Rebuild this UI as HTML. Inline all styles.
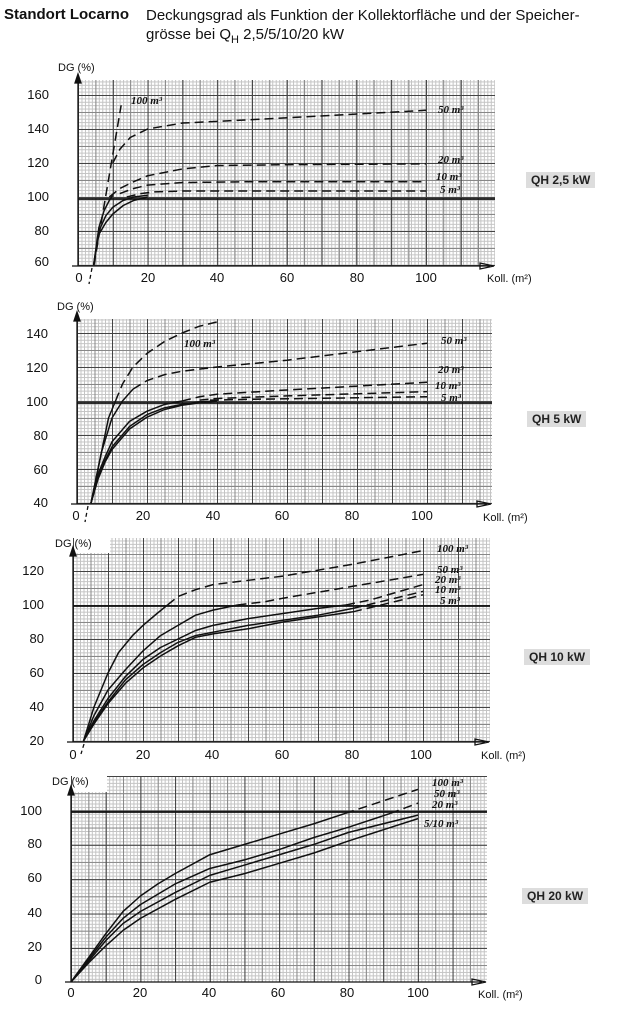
<!DOCTYPE html>
<html><head><meta charset="utf-8"><style>
body{margin:0;background:#fff;width:640px;height:1030px;position:relative;overflow:hidden;font-family:"Liberation Sans",sans-serif;}
.g{position:absolute;background-image:
linear-gradient(to right,#444 1.2px,transparent 1.2px),linear-gradient(#444 1.2px,transparent 1.2px),
linear-gradient(to right,#888 1px,transparent 1px),linear-gradient(#888 1px,transparent 1px),
linear-gradient(to right,#c4c4c4 1px,transparent 1px),linear-gradient(#c4c4c4 1px,transparent 1px);}
.w{position:absolute;background:#fff}
.qh{position:absolute;background:#ddd;font-size:12px;font-weight:bold;color:#222;padding:1px 5px;}
svg{position:absolute;left:0;top:0}
</style></head><body>
<div style="position:absolute;left:4px;top:6px;font-size:15px;font-weight:bold;color:#111">Standort Locarno</div>
<div style="position:absolute;left:146px;top:6px;font-size:15px;color:#111;line-height:19px">Deckungsgrad als Funktion der Kollektorfläche und der Speicher-<br>grösse bei Q<sub style="font-size:11px">H</sub> 2,5/5/10/20 kW</div>

<div class="g" style="left:78px;top:80px;width:417px;height:186px;background-size:34.8px 34px,34.8px 34px,17.4px 17px,17.4px 17px,3.48px 3.4px,3.48px 3.4px;background-position:0 15px,0 15px,0 15px,0 15px,0 15px,0 15px"></div>
<div class="g" style="left:77px;top:319px;width:415px;height:185px;background-size:35px 34px,35px 34px,17.5px 17px,17.5px 17px,3.5px 3.4px,3.5px 3.4px;background-position:0 14px,0 14px,0 14px,0 14px,0 14px,0 14px"></div>
<div class="g" style="left:73px;top:538px;width:417px;height:204px;background-size:35px 34px,35px 34px,17.5px 17px,17.5px 17px,3.5px 3.4px,3.5px 3.4px;background-position:0 33px,0 33px,0 33px,0 33px,0 33px,0 33px"></div>
<div class="w" style="left:74px;top:537px;width:36px;height:16px"></div>
<div class="g" style="left:71px;top:776px;width:416px;height:206px;background-size:34.7px 34.4px,34.7px 34.4px,17.35px 17.2px,17.35px 17.2px,3.47px 3.44px,3.47px 3.44px;background-position:0 0,0 0,0 0,0 0,0 0,0 0"></div>
<div class="w" style="left:72px;top:775px;width:35px;height:17px"></div>

<div class="qh" style="left:526px;top:172px">QH 2,5 kW</div>
<div class="qh" style="left:527px;top:411px">QH 5 kW</div>
<div class="qh" style="left:524px;top:649px">QH 10 kW</div>
<div class="qh" style="left:522px;top:888px">QH 20 kW</div>

<svg width="640" height="1030" viewBox="0 0 640 1030" font-family="Liberation Sans, sans-serif" fill="#111">
<g stroke="#111" fill="none" stroke-width="1.3">
<path d="M78 266V78M72 266H490M494 266l-14 -3v6z"/>
<path d="M77 504V316M71 504H487M491 504l-14 -3v6z"/>
<path d="M73 742V551M67 742H485M489 742l-14 -3v6z"/>
<path d="M71 982V790M65 982H482M486 982l-14 -3v6z"/>
<path d="M78 74l-3 9h6zM77 312l-3 9h6zM73 547l-3 9h6zM71 786l-3 9h6z" fill="#111"/>
<path d="M78 199H495M77 403H492M73 606H490M71 812H487" stroke-width="1.7"/>
<path d="M92 268l-3 16M88 506l-3 16M84 744l-3 10" stroke-dasharray="4 3"/>
</g>

<g transform="translate(78,197) scale(3.48,-1.7)" fill="none" stroke="#111" stroke-width="1.5" stroke-linejoin="round">
<polyline vector-effect="non-scaling-stroke" points="4.5,-40 6,-18 7.5,-8 9,-2 10,1"/>
<polyline vector-effect="non-scaling-stroke" points="4.5,-40 6,-20 8,-11 10,-6 13,-2 16,0 20,1"/>
<polyline vector-effect="non-scaling-stroke" points="4.5,-40 6,-22 8,-15 10,-10 13,-5 16,-2 20,0"/>
<g stroke-dasharray="9 5">
<polyline vector-effect="non-scaling-stroke" points="4.6,-40 12.4,54"/>
<polyline vector-effect="non-scaling-stroke" points="10,20 12,28 15,35 20,40 30,43.5 50,45.5 100,51"/>
<polyline vector-effect="non-scaling-stroke" points="9,0 12,5 16,9 20,12.5 30,16.5 40,18.5 60,19 100,19.5"/>
<polyline vector-effect="non-scaling-stroke" points="12,2 16,5 20,7 30,8.5 50,9 100,9"/>
<polyline vector-effect="non-scaling-stroke" points="14,0 18,2 22,3 30,3.5 100,3.5"/>
</g></g>

<g transform="translate(77,401) scale(3.5,-1.7)" fill="none" stroke="#111" stroke-width="1.5" stroke-linejoin="round">
<polyline vector-effect="non-scaling-stroke" points="4,-60 6,-45 8,-35 10,-27 15,-15 20,-8 25,-4 30,-2 35,-0.5 40,0"/>
<polyline vector-effect="non-scaling-stroke" points="4,-60 6,-46 8,-36 10,-28.5 15,-16.5 20,-9.5 25,-5 30,-2.5 35,-1 40,0"/>
<polyline vector-effect="non-scaling-stroke" points="4,-60 6,-43 8,-33 10,-24 15,-12 20,-6 25,-2 30,0"/>
<polyline vector-effect="non-scaling-stroke" points="4,-60 7,-30 10,-10 13,0 16,7"/>
<polyline vector-effect="non-scaling-stroke" points="4,-60 7,-30 9,-10 11,0"/>
<g stroke-dasharray="9 5">
<polyline vector-effect="non-scaling-stroke" points="11,0 13,10 16,20 20,28 25,35 30,40 35,44 41,47"/>
<polyline vector-effect="non-scaling-stroke" points="16,7 20,12 25,15.5 30,17.5 40,20 60,24 100,34"/>
<polyline vector-effect="non-scaling-stroke" points="30,0 35,2.5 40,4 60,6.5 100,11"/>
<polyline vector-effect="non-scaling-stroke" points="35,0.5 40,1.5 60,3 100,5.5"/>
<polyline vector-effect="non-scaling-stroke" points="38,0.5 50,1 100,2.5"/>
</g></g>

<g transform="translate(73,605) scale(3.5,-1.7)" fill="none" stroke="#111" stroke-width="1.5" stroke-linejoin="round">
<polyline vector-effect="non-scaling-stroke" points="3,-80 6,-60 10,-40 13,-28 17,-18 20,-12 24,-5 27,0"/>
<polyline vector-effect="non-scaling-stroke" points="3,-80 6,-65 10,-50 15,-38 20,-27 25,-18 30,-12 35,-6 40,-3 47,0"/>
<polyline vector-effect="non-scaling-stroke" points="3,-80 6,-68 10,-55 15,-42 20,-32 25,-25 30,-20 35,-15 40,-12 50,-8 60,-5 70,-2 78,0"/>
<polyline vector-effect="non-scaling-stroke" points="3,-80 6,-69 10,-57 15,-44 20,-35 25,-28 30,-22 35,-18 40,-16 50,-12 60,-9 70,-6 80,-2"/>
<polyline vector-effect="non-scaling-stroke" points="3,-80 6,-70 10,-58 15,-46 20,-37 25,-30 30,-24 35,-19 40,-17 50,-14 60,-10 70,-7 80,-4"/>
<g stroke-dasharray="9 5">
<polyline vector-effect="non-scaling-stroke" points="27,0 30,5 35,9 40,12 60,17 80,24 100,32"/>
<polyline vector-effect="non-scaling-stroke" points="47,0 55,2 60,4 80,11 100,18"/>
<polyline vector-effect="non-scaling-stroke" points="78,0 85,3 100,12"/>
<polyline vector-effect="non-scaling-stroke" points="80,-2 90,3 100,8"/>
<polyline vector-effect="non-scaling-stroke" points="80,-4 90,1 100,6"/>
</g></g>

<g transform="translate(71,810) scale(3.47,-1.72)" fill="none" stroke="#111" stroke-width="1.5" stroke-linejoin="round">
<polyline vector-effect="non-scaling-stroke" points="0,-100 5,-86 10,-72 15,-59 20,-50 25,-43 30,-37 40,-26 50,-20 60,-14 70,-8 79,-2"/>
<polyline vector-effect="non-scaling-stroke" points="0,-100 5,-87 10,-74 15,-63 20,-55 30,-43 40,-34 50,-29 60,-23 70,-16 80,-10 92,-2"/>
<polyline vector-effect="non-scaling-stroke" points="0,-100 5,-88 10,-76 15,-66 20,-59 30,-48 40,-38 50,-32 60,-26 70,-20 80,-13 100,-3"/>
<polyline vector-effect="non-scaling-stroke" points="0,-100 5,-89 10,-79 15,-70 20,-63 30,-52 40,-42 50,-37 60,-31 70,-25 80,-18 100,-5"/>
<g stroke-dasharray="9 5">
<polyline vector-effect="non-scaling-stroke" points="79,-2 85,2 100,12"/>
<polyline vector-effect="non-scaling-stroke" points="92,-2 100,4"/>
</g></g>

<g font-size="13" text-anchor="end">
<text x="49" y="99">160</text><text x="49" y="133">140</text><text x="49" y="167">120</text><text x="49" y="201">100</text><text x="49" y="235">80</text><text x="49" y="266">60</text>
<text x="48" y="338">140</text><text x="48" y="372">120</text><text x="48" y="406">100</text><text x="48" y="440">80</text><text x="48" y="474">60</text><text x="48" y="507">40</text>
<text x="44" y="575">120</text><text x="44" y="609">100</text><text x="44" y="643">80</text><text x="44" y="677">60</text><text x="44" y="711">40</text><text x="44" y="745">20</text>
<text x="42" y="815">100</text><text x="42" y="848">80</text><text x="42" y="882">60</text><text x="42" y="917">40</text><text x="42" y="951">20</text><text x="42" y="984">0</text>
</g>
<g font-size="13" text-anchor="middle">
<text x="79" y="282">0</text><text x="148" y="282">20</text><text x="217" y="282">40</text><text x="287" y="282">60</text><text x="357" y="282">80</text><text x="426" y="282">100</text>
<text x="76" y="520">0</text><text x="143" y="520">20</text><text x="213" y="520">40</text><text x="282" y="520">60</text><text x="352" y="520">80</text><text x="422" y="520">100</text>
<text x="73" y="759">0</text><text x="143" y="759">20</text><text x="212" y="759">40</text><text x="282" y="759">60</text><text x="352" y="759">80</text><text x="421" y="759">100</text>
<text x="71" y="997">0</text><text x="140" y="997">20</text><text x="209" y="997">40</text><text x="278" y="997">60</text><text x="347" y="997">80</text><text x="418" y="997">100</text>
</g>
<g font-size="11">
<text x="58" y="71">DG (%)</text><text x="57" y="310">DG (%)</text><text x="55" y="547">DG (%)</text><text x="52" y="785">DG (%)</text>
<text x="487" y="282">Koll. (m²)</text><text x="483" y="521">Koll. (m²)</text><text x="481" y="759">Koll. (m²)</text><text x="478" y="998">Koll. (m²)</text>
</g>
<g font-size="11" font-style="italic" font-weight="bold" font-family="Liberation Serif, serif">
<text x="131" y="104">100 m³</text><text x="438" y="113">50 m³</text><text x="438" y="163">20 m³</text><text x="436" y="180">10 m³</text><text x="440" y="193">5 m³</text>
<text x="184" y="347">100 m³</text><text x="441" y="344">50 m³</text><text x="438" y="373">20 m³</text><text x="435" y="389">10 m³</text><text x="441" y="401">5 m³</text>
<text x="437" y="552">100 m³</text><text x="437" y="573">50 m³</text><text x="435" y="583">20 m³</text><text x="435" y="593">10 m³</text><text x="440" y="604">5 m³</text>
<text x="432" y="786">100 m³</text><text x="434" y="797">50 m³</text><text x="432" y="808">20 m³</text><text x="424" y="827">5/10 m³</text>
</g>
</svg>
</body></html>
